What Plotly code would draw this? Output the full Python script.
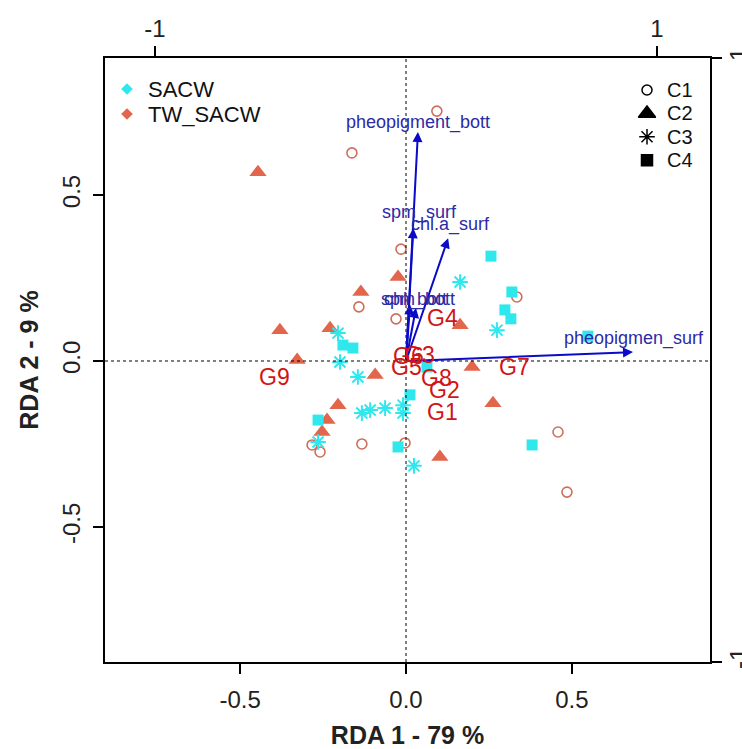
import plotly.graph_objects as go

# ---------------- data ----------------
# SACW (cyan)
sacw_c4_x = [0.256, 0.319, 0.298, 0.316, 0.548, -0.190, -0.160, 0.063, 0.012, -0.265, -0.024, 0.380]
sacw_c4_y = [0.316, 0.208, 0.154, 0.127, 0.075, 0.048, 0.039, -0.018, -0.102, -0.178, -0.259, -0.253]
sacw_c3_x = [0.163, 0.274, -0.205, -0.199, -0.145, -0.133, -0.108, -0.063, -0.009, -0.009, -0.265, 0.024]
sacw_c3_y = [0.238, 0.093, 0.084, -0.003, -0.048, -0.157, -0.148, -0.142, -0.133, -0.157, -0.244, -0.316]
# TW_SACW (salmon)
tw_c1_x = [0.093, -0.163, -0.015, -0.142, -0.030, 0.334, -0.283, -0.259, -0.133, -0.003, 0.458, 0.485]
tw_c1_y = [0.753, 0.627, 0.337, 0.163, 0.127, 0.193, -0.253, -0.274, -0.250, -0.247, -0.214, -0.395]
tw_c2_x = [-0.446, -0.136, -0.024, -0.380, -0.229, -0.328, -0.093, 0.163, 0.199, 0.262, -0.205, -0.238, -0.253, 0.102]
tw_c2_y = [0.569, 0.208, 0.253, 0.093, 0.099, 0.003, -0.042, 0.108, -0.018, -0.127, -0.133, -0.178, -0.214, -0.289]

# group centroids
group_names = ["G1", "G2", "G3", "G4", "G5", "G6", "G7", "G8", "G9"]
group_x = [0.111, 0.117, 0.042, 0.111, 0.000, 0.006, 0.328, 0.093, -0.395]
group_y = [-0.154, -0.087, 0.018, 0.130, -0.018, 0.015, -0.018, -0.051, -0.048]

# environmental vectors
env_names = ["pheopigment_bott", "spm_surf", "chl.a_surf", "spm_bott", "chl_bott", "pheopigmen_surf"]
env_x = [0.036, 0.022, 0.127, 0.012, 0.030, 0.684]
env_y = [0.690, 0.400, 0.370, 0.170, 0.160, 0.027]
env_label_x = [0.036, 0.042, 0.133, 0.036, 0.030, 0.687]
env_label_y = [0.720, 0.446, 0.410, 0.184, 0.184, 0.069]

x_ticks = [-0.5, 0.0, 0.5]
y_ticks = [-0.5, 0.0, 0.5]
x_tick_text = ["-0.5", "0.0", "0.5"]
y_tick_text = ["-0.5", "0.0", "0.5"]
sec_ticks = [-1, 1]
sec_tick_text = ["-1", "1"]

mass_names = ["SACW", "TW_SACW"]
class_names = ["C1", "C2", "C3", "C4"]

CYAN = "#2FE8EE"
SALMON = "#E2664C"
SALMON_LINE = "#CC6F5C"
ARROW = "#0A0AC8"
ARROW_TXT = "#2B2BA6"
GROUP_TXT = "#D01515"
FONT = "Arial, Liberation Sans, sans-serif"

fig = go.Figure()

# data points
fig.add_trace(go.Scatter(x=tw_c1_x, y=tw_c1_y, mode="markers", showlegend=False,
                         marker=dict(symbol="circle-open", size=10, color=SALMON_LINE, line=dict(width=1.6, color=SALMON_LINE))))
fig.add_trace(go.Scatter(x=tw_c2_x, y=tw_c2_y, mode="markers", showlegend=False,
                         marker=dict(symbol="triangle-up", size=15, color=SALMON, line=dict(width=0))))
fig.add_trace(go.Scatter(x=sacw_c4_x, y=sacw_c4_y, mode="markers", showlegend=False,
                         marker=dict(symbol="square", size=11, color=CYAN, line=dict(width=0))))
fig.add_trace(go.Scatter(x=sacw_c3_x, y=sacw_c3_y, mode="markers", showlegend=False,
                         marker=dict(symbol="asterisk-open", size=13, color=CYAN, line=dict(width=2, color=CYAN))))

# invisible trace for the secondary axes
fig.add_trace(go.Scatter(x=[None], y=[None], xaxis="x2", yaxis="y2", mode="markers",
                         showlegend=False, hoverinfo="skip"))

# ---- legends (drawn in a hidden pixel-like overlay axis: x3 = px from plot left, y3 = px from plot top)
leg1_x, leg1_y0, leg1_dy = 22, 31, 25
leg2_x, leg2_y0, leg2_dy = 542, 32, 23.4
leg1_ys = [leg1_y0 + i * leg1_dy for i in range(len(mass_names))]
leg2_ys = [leg2_y0 + i * leg2_dy for i in range(len(class_names))]
fig.add_trace(go.Scatter(x=[leg1_x] * 2, y=leg1_ys, xaxis="x3", yaxis="y3", mode="markers",
                         showlegend=False, hoverinfo="skip",
                         marker=dict(symbol="diamond", size=9, color=[CYAN, SALMON])))
for nm, yy in zip(mass_names, leg1_ys):
    fig.add_annotation(x=leg1_x + 19, y=yy, xref="x3", yref="y3", text=nm, showarrow=False,
                       xanchor="left", font=dict(family=FONT, size=22, color="#111"))
for nm, yy, sym, sz in zip(class_names, leg2_ys, ["circle-open", "triangle-up", "asterisk-open", "square"],
                           [10, 15, 13, 11]):
    fig.add_trace(go.Scatter(x=[leg2_x], y=[yy], xaxis="x3", yaxis="y3", mode="markers",
                             showlegend=False, hoverinfo="skip",
                             marker=dict(symbol=sym, size=sz, color="black", line=dict(width=1.5, color="black"))))
    fig.add_annotation(x=leg2_x + 18, y=yy, xref="x3", yref="y3", text=nm, showarrow=False,
                       xanchor="left", font=dict(family=FONT, size=20, color="#111"))

# arrows
for ex, ey in zip(env_x, env_y):
    fig.add_annotation(x=ex, y=ey, ax=0, ay=0, xref="x", yref="y", axref="x", ayref="y",
                       text="", showarrow=True, arrowhead=2, arrowsize=1, arrowwidth=2, arrowcolor=ARROW)
for nm, lx, ly in zip(env_names, env_label_x, env_label_y):
    fig.add_annotation(x=lx, y=ly, xref="x", yref="y", text=nm, showarrow=False,
                       font=dict(family=FONT, size=18, color=ARROW_TXT))
# group labels
for nm, gx, gy in zip(group_names, group_x, group_y):
    fig.add_annotation(x=gx, y=gy, xref="x", yref="y", text=nm, showarrow=False,
                       font=dict(family=FONT, size=23, color=GROUP_TXT))

# dotted zero lines
fig.add_hline(y=0, line=dict(color="black", width=1, dash="dot"))
fig.add_vline(x=0, line=dict(color="black", width=1, dash="dot"))

axis_common = dict(showgrid=False, zeroline=False, showline=True, linecolor="black", linewidth=1.5,
                   ticks="outside", ticklen=10, tickwidth=1.5, tickcolor="black", automargin=False,
                   tickfont=dict(family=FONT, size=24, color="#222"))

fig.update_layout(
    width=742, height=749,
    margin=dict(l=105, r=32, t=58, b=87, autoexpand=False),
    paper_bgcolor="white", plot_bgcolor="white",
    font=dict(family=FONT, color="black"),
    showlegend=False,
    xaxis=dict(range=[-0.907, 0.916], tickvals=x_ticks, ticktext=x_tick_text, mirror=True,
               ticklabelstandoff=5,
               title=dict(text="<b>RDA 1 - 79 %</b>", font=dict(family=FONT, size=25, color="#222"), standoff=18),
               **axis_common),
    yaxis=dict(range=[-0.907, 0.913], tickvals=y_ticks, ticktext=y_tick_text, mirror=True, tickangle=-90,
               ticklabelstandoff=4,
               title=dict(text="<b>RDA 2 - 9 %</b>", font=dict(family=FONT, size=25, color="#222"), standoff=12),
               **axis_common),
    xaxis2=dict(overlaying="x", side="top", range=[-1.199, 1.211], tickvals=sec_ticks, ticktext=sec_tick_text,
                **axis_common),
    yaxis2=dict(overlaying="y", side="right", range=[-1.0, 1.0], tickvals=sec_ticks, ticktext=sec_tick_text,
                tickangle=-90, ticklabelstandoff=-4, **axis_common),
    xaxis3=dict(overlaying="x", anchor="y3", range=[0, 605], visible=False, fixedrange=True),
    yaxis3=dict(overlaying="y", anchor="x3", range=[604, 0], visible=False, fixedrange=True),
)

fig.write_html("out.html")
